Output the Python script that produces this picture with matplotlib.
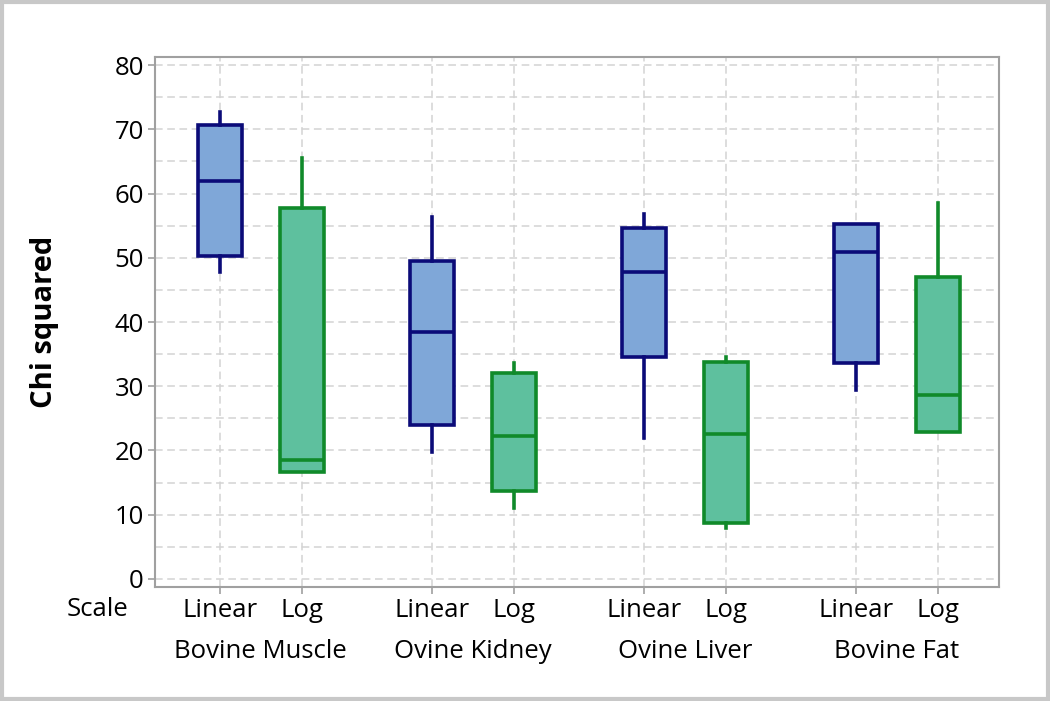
import matplotlib
matplotlib.use("Agg")
import matplotlib.pyplot as plt
from matplotlib.patches import Rectangle
from matplotlib.ticker import MultipleLocator

plt.rcParams['font.family'] = ['Open Sans', 'DejaVu Sans']

tissues = ["Bovine Muscle", "Ovine Kidney", "Ovine Liver", "Bovine Fat"]
scales = ["Linear", "Log"]
# each: whisker low, q1, median, q3, whisker high
lin_whislo = [47.8, 19.7, 22.0, 29.4]
lin_q1 = [50.2, 23.9, 34.5, 33.6]
lin_med = [62.0, 38.4, 47.8, 50.9]
lin_q3 = [70.6, 49.5, 54.6, 55.3]
lin_whishi = [72.7, 56.3, 56.8, 55.3]
log_whislo = [16.6, 11.0, 7.9, 22.8]
log_q1 = [16.6, 13.7, 8.7, 22.8]
log_med = [18.5, 22.3, 22.6, 28.7]
log_q3 = [57.8, 32.0, 33.7, 47.0]
log_whishi = [65.6, 33.6, 34.6, 58.6]

lin_fill, lin_edge = "#7FA7D8", "#0B0B78"
log_fill, log_edge = "#5EC09E", "#108A2A"

fs = 18.5

fig = plt.figure(figsize=(10.5, 7.01), dpi=100)
fig.patch.set_facecolor("white")
fig.add_artist(Rectangle((0.002, 0.003), 0.996, 0.994, transform=fig.transFigure,
                         fill=False, edgecolor="#C8C8C8", linewidth=3))

ax = fig.add_axes([155/1050, (701-587)/701, 844/1050, 530/701])

gstep = 2.585
positions = []
for g in range(len(tissues)):
    positions += [g*gstep, g*gstep + 1]

def stats(i, lo, q1, med, q3, hi):
    return dict(whislo=lo[i], q1=q1[i], med=med[i], q3=q3[i], whishi=hi[i], fliers=[])

for i in range(len(tissues)):
    for k, (lo, q1, med, q3, hi, fc, ec) in enumerate([
            (lin_whislo, lin_q1, lin_med, lin_q3, lin_whishi, lin_fill, lin_edge),
            (log_whislo, log_q1, log_med, log_q3, log_whishi, log_fill, log_edge)]):
        ax.bxp([stats(i, lo, q1, med, q3, hi)], positions=[positions[2*i+k]], widths=0.53,
               patch_artist=True, showcaps=False, showfliers=False,
               boxprops=dict(facecolor=fc, edgecolor=ec, linewidth=2.6),
               medianprops=dict(color=ec, linewidth=2.6),
               whiskerprops=dict(color=ec, linewidth=2.6), zorder=3)

ax.set_xlim(-0.79, 9.5)
ax.set_ylim(-1.25, 81.25)
ax.yaxis.set_major_locator(MultipleLocator(10))
ax.yaxis.set_minor_locator(MultipleLocator(5))
ax.set_xticks(positions)
ax.set_xticklabels(scales * len(tissues))
ax.grid(True, which="both", axis="y", color="#D3D3D3", linestyle=(0, (5, 3)), linewidth=1.1, zorder=0)
ax.grid(True, which="major", axis="x", color="#D3D3D3", linestyle=(0, (5, 3)), linewidth=1.1, zorder=0)
ax.set_axisbelow(True)
for s in ax.spines.values():
    s.set_color("#A0A0A0")
    s.set_linewidth(1.5)
ax.tick_params(axis="both", which="major", colors="#A0A0A0", length=5, width=1.2,
               labelcolor="black", labelsize=fs)
ax.tick_params(axis="y", which="minor", length=0)
ax.tick_params(axis="x", pad=3)
ax.tick_params(axis="y", pad=3)

for g, t in enumerate(tissues):
    ax.annotate(t, xy=(g*gstep + 0.5, 0), xycoords=("data", "axes fraction"),
                xytext=(0, -64/100*72), textcoords="offset points", ha="center", va="center",
                fontsize=fs)

fig.text(97/1050, 1 - 610/701, "Scale", ha="center", va="center", fontsize=fs)
fig.text(45/1050, 1 - 322/701, "Chi squared", rotation=90, ha="center", va="center",
         fontsize=21, fontweight="bold")

fig.savefig("out.png", dpi=100)
